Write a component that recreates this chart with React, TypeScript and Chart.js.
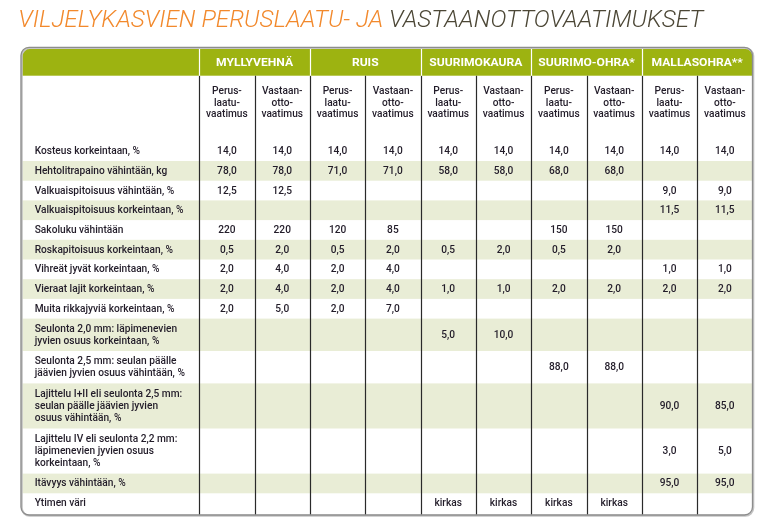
import React, { useEffect, useRef } from "react";
import { Chart, registerables } from "chart.js";

Chart.register(...registerables);

// ---------- DATA ----------
const titleOrange = "VILJELYKASVIEN PERUSLAATU- JA";
const titleDark = "VASTAANOTTOVAATIMUKSET";

const cropGroups = ["MYLLYVEHNÄ", "RUIS", "SUURIMOKAURA", "SUURIMO-OHRA*", "MALLASOHRA**"];
const subHeaderBase = ["Perus-", "laatu-", "vaatimus"];
const subHeaderIntake = ["Vastaan-", "otto-", "vaatimus"];

const rowLabels: string[][] = [
  ["Kosteus korkeintaan, %"],
  ["Hehtolitrapaino vähintään, kg"],
  ["Valkuaispitoisuus vähintään, %"],
  ["Valkuaispitoisuus korkeintaan, %"],
  ["Sakoluku vähintään"],
  ["Roskapitoisuus korkeintaan, %"],
  ["Vihreät jyvät korkeintaan, %"],
  ["Vieraat lajit korkeintaan, %"],
  ["Muita rikkajyviä korkeintaan, %"],
  ["Seulonta 2,0 mm: läpimenevien", "jyvien osuus korkeintaan, %"],
  ["Seulonta 2,5 mm: seulan päälle", "jäävien jyvien osuus vähintään, %"],
  ["Lajittelu I+II eli seulonta 2,5 mm:", "seulan päälle jäävien jyvien", "osuus vähintään, %"],
  ["Lajittelu IV eli seulonta 2,2 mm:", "läpimenevien jyvien osuus", "korkeintaan, %"],
  ["Itävyys vähintään, %"],
  ["Ytimen väri"],
];

const _ = "";
const cellValues: string[][] = [
  ["14,0", "14,0", "14,0", "14,0", "14,0", "14,0", "14,0", "14,0", "14,0", "14,0"],
  ["78,0", "78,0", "71,0", "71,0", "58,0", "58,0", "68,0", "68,0", _, _],
  ["12,5", "12,5", _, _, _, _, _, _, "9,0", "9,0"],
  [_, _, _, _, _, _, _, _, "11,5", "11,5"],
  ["220", "220", "120", "85", _, _, "150", "150", _, _],
  ["0,5", "2,0", "0,5", "2,0", "0,5", "2,0", "0,5", "2,0", _, _],
  ["2,0", "4,0", "2,0", "4,0", _, _, _, _, "1,0", "1,0"],
  ["2,0", "4,0", "2,0", "4,0", "1,0", "1,0", "2,0", "2,0", "2,0", "2,0"],
  ["2,0", "5,0", "2,0", "7,0", _, _, _, _, _, _],
  [_, _, _, _, "5,0", "10,0", _, _, _, _],
  [_, _, _, _, _, _, "88,0", "88,0", _, _],
  [_, _, _, _, _, _, _, _, "90,0", "85,0"],
  [_, _, _, _, _, _, _, _, "3,0", "5,0"],
  [_, _, _, _, _, _, _, _, "95,0", "95,0"],
  [_, _, _, _, "kirkas", "kirkas", "kirkas", "kirkas", _, _],
];

// ---------- LAYOUT / STYLE ----------
const LABEL_COL = 3.222; // label column width in data-column units
const N_COLS = 10;
const HEADER_H = 28.4;
const SUBHEADER_H = 65.6;
const ROW_BASE = 7;
const ROW_LINE = 12.7;
const BOTTOM_EXTRA = 2;
const LINE_SPACING = 11.7;
const SUB_LINE_SPACING = 11.5;
const SUB_FIRST_LINE = 14.3;

const GREEN = "#9db311";
const STRIPE = "#e9edd6";
const TEXT = "#221c29";
const GRID = "#2a2a2a";
const BORDER = "#8d8d8d";
const ORANGE = "#f2892c";
const DARK_TITLE = "#4c4736";

const FONT_FAMILY = "Roboto, 'Open Sans', sans-serif";
const BODY_FONT = `500 11.7px ${FONT_FAMILY}`;
const BOLD_FONT = `700 11.5px ${FONT_FAMILY}`;
const TITLE_FONT = `italic 300 24px ${FONT_FAMILY}`;

const rowHeights = rowLabels.map((l) => ROW_BASE + ROW_LINE * l.length);
const rowTops: number[] = [];
{
  let acc = HEADER_H + SUBHEADER_H;
  rowHeights.forEach((h) => {
    rowTops.push(acc);
    acc += h;
  });
}
const TOTAL_H = HEADER_H + SUBHEADER_H + rowHeights.reduce((a, b) => a + b, 0) + BOTTOM_EXTRA;
const rowCenters = rowTops.map((t, i) => t + rowHeights[i] / 2);
const colCenter = (c: number) => LABEL_COL + c + 0.5;

const valuePoints: { x: number; y: number }[] = [];
const valueTexts: string[] = [];
cellValues.forEach((row, r) =>
  row.forEach((v, c) => {
    if (v !== "") {
      valuePoints.push({ x: colCenter(c), y: rowCenters[r] });
      valueTexts.push(v);
    }
  })
);
const labelPoints = rowCenters.map((y) => ({ x: 0, y }));
const groupPoints = cropGroups.map((_g, g) => ({ x: LABEL_COL + 2 * g + 1, y: HEADER_H / 2 }));
const subPoints = Array.from({ length: N_COLS }, (_v, c) => ({ x: colCenter(c), y: HEADER_H + SUB_FIRST_LINE }));

function drawScaled(
  ctx: CanvasRenderingContext2D,
  text: string,
  x: number,
  y: number,
  font: string,
  color: string,
  align: CanvasTextAlign,
  k: number
) {
  ctx.save();
  ctx.font = font;
  ctx.fillStyle = color;
  ctx.textAlign = align;
  ctx.textBaseline = "alphabetic";
  ctx.translate(x, y);
  ctx.scale(k, 1);
  ctx.fillText(text, 0, 0);
  ctx.restore();
}

const tablePlugin = {
  id: "tableDraw",
  beforeDatasetsDraw(chart: any) {
    const { ctx, chartArea } = chart;
    const xs = chart.scales.x;
    const ys = chart.scales.y;
    const left = chartArea.left;
    const right = chartArea.right;
    const top = ys.getPixelForValue(0);
    const bottom = ys.getPixelForValue(TOTAL_H);
    const headerBottom = ys.getPixelForValue(HEADER_H);
    const radius = 8;

    // title
    ctx.save();
    ctx.font = TITLE_FONT;
    const wO = ctx.measureText(titleOrange + " ").width;
    const wD = ctx.measureText(titleDark).width;
    const kT = 685 / (wO + wD);
    const titleX = 18.3;
    const titleY = 27.3;
    ctx.restore();
    drawScaled(ctx, titleOrange, titleX, titleY, TITLE_FONT, ORANGE, "left", kT);
    drawScaled(ctx, titleDark, titleX + wO * kT, titleY, TITLE_FONT, DARK_TITLE, "left", kT);

    ctx.save();
    ctx.beginPath();
    ctx.roundRect(left, top, right - left, bottom - top, radius);
    ctx.clip();
    ctx.fillStyle = "#ffffff";
    ctx.fillRect(left, top, right - left, bottom - top);
    // header
    ctx.fillStyle = GREEN;
    ctx.fillRect(left, top, right - left, headerBottom - top);
    // stripes
    ctx.fillStyle = STRIPE;
    rowTops.forEach((t, i) => {
      if (i % 2 === 1) {
        const y0 = ys.getPixelForValue(t);
        const y1 = ys.getPixelForValue(t + rowHeights[i]);
        ctx.fillRect(left, y0, right - left, y1 - y0);
      }
    });
    // dark vertical lines
    ctx.strokeStyle = GRID;
    ctx.lineWidth = 1.2;
    for (let c = 0; c < N_COLS; c++) {
      const px = Math.round(xs.getPixelForValue(LABEL_COL + c)) + 0.5;
      ctx.beginPath();
      ctx.moveTo(px, headerBottom);
      ctx.lineTo(px, bottom);
      ctx.stroke();
    }
    // white header separators
    ctx.strokeStyle = "#ffffff";
    ctx.lineWidth = 1.2;
    for (let g = 0; g < cropGroups.length; g++) {
      const px = Math.round(xs.getPixelForValue(LABEL_COL + 2 * g)) + 0.5;
      ctx.beginPath();
      ctx.moveTo(px, top);
      ctx.lineTo(px, headerBottom);
      ctx.stroke();
    }
    ctx.restore();

    // outer border
    ctx.save();
    ctx.strokeStyle = "#c4c4c4";
    ctx.lineWidth = 2;
    ctx.beginPath();
    ctx.roundRect(left + 0.8, top + 0.8, right - left, bottom - top, radius);
    ctx.stroke();
    ctx.strokeStyle = BORDER;
    ctx.lineWidth = 1.3;
    ctx.beginPath();
    ctx.roundRect(left, top, right - left, bottom - top, radius);
    ctx.stroke();
    ctx.restore();
  },
  afterDatasetsDraw(chart: any) {
    const { ctx } = chart;
    ctx.save();
    ctx.font = BODY_FONT;
    const kBody =
      238 /
      (ctx.measureText("Kosteus korkeintaan, %").width + ctx.measureText("Hehtolitrapaino vähintään, kg").width);
    ctx.font = BOLD_FONT;
    const kBold = 77 / ctx.measureText("MYLLYVEHNÄ").width;
    ctx.restore();
    const capShift = 3;

    // values
    chart.getDatasetMeta(0).data.forEach((el: any, i: number) => {
      drawScaled(ctx, valueTexts[i], el.x, el.y + capShift, BODY_FONT, TEXT, "center", kBody);
    });
    // row labels
    chart.getDatasetMeta(1).data.forEach((el: any, i: number) => {
      const lines = rowLabels[i];
      const start = el.y - ((lines.length - 1) * LINE_SPACING) / 2;
      lines.forEach((ln, j) => {
        drawScaled(ctx, ln, el.x + 13.7, start + j * LINE_SPACING + capShift, BODY_FONT, TEXT, "left", kBody);
      });
    });
    // groups
    chart.getDatasetMeta(2).data.forEach((el: any, i: number) => {
      drawScaled(ctx, cropGroups[i], el.x, el.y + 4, BOLD_FONT, "#ffffff", "center", kBold);
    });
    // subheaders
    chart.getDatasetMeta(3).data.forEach((el: any, i: number) => {
      const lines = i % 2 === 0 ? subHeaderBase : subHeaderIntake;
      lines.forEach((ln, j) => {
        drawScaled(ctx, ln, el.x, el.y + j * SUB_LINE_SPACING + 4, BODY_FONT, TEXT, "center", kBody);
      });
    });
  },
};

export default function App() {
  const ref = useRef<HTMLCanvasElement | null>(null);
  useEffect(() => {
    if (!ref.current) return;
    const pointDs = (label: string, data: { x: number; y: number }[]) => ({
      label,
      data,
      pointRadius: 0,
      pointHoverRadius: 0,
      showLine: false,
    });
    const chart = new Chart(ref.current, {
      type: "scatter",
      data: {
        datasets: [
          pointDs("values", valuePoints),
          pointDs("rows", labelPoints),
          pointDs("groups", groupPoints),
          pointDs("subheaders", subPoints),
        ],
      },
      options: {
        animation: false,
        responsive: false,
        events: [],
        layout: { padding: { left: 21, right: 19.5, top: 47.3, bottom: 9 } },
        scales: {
          x: { type: "linear", min: 0, max: LABEL_COL + N_COLS, display: false },
          y: { type: "linear", min: 0, max: TOTAL_H, reverse: true, display: false },
        },
        plugins: {
          legend: { display: false },
          tooltip: { enabled: false },
          title: { display: false },
        },
      },
      plugins: [tablePlugin],
    } as any);
    return () => chart.destroy();
  }, []);
  return (
    <div style={{ position: "fixed", left: 0, top: 0, width: 772, height: 524, background: "#ffffff" }}>
      <canvas ref={ref} width={772} height={524} style={{ display: "block" }} />
    </div>
  );
}
